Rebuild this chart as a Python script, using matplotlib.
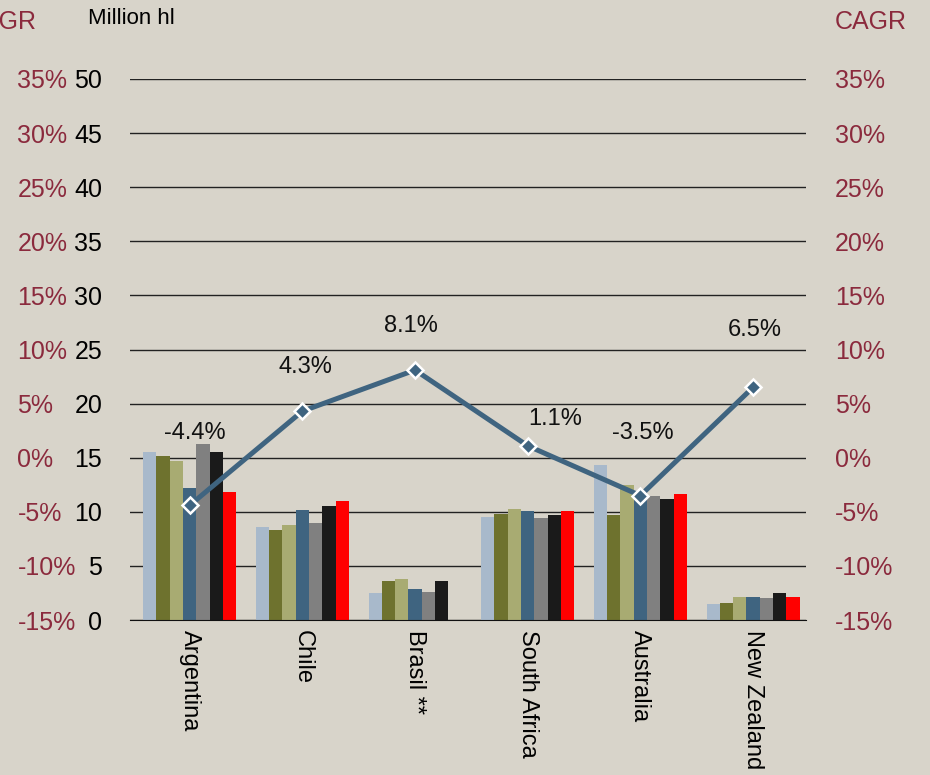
import matplotlib.pyplot as plt
import numpy as np

plt.rcParams['font.family'] = ['Liberation Sans', 'DejaVu Sans']

countries = ["Argentina", "Chile", "Brasil **", "South Africa", "Australia", "New Zealand"]

# production per year, million hl (NaN = no figure)
year1 = [15.5, 8.6, 2.5, 9.5, 14.3, 1.5]
year2 = [15.2, 8.35, 3.6, 9.8, 9.7, 1.6]
year3 = [14.7, 8.8, 3.8, 10.3, 12.5, 2.15]
year4 = [12.2, 10.2, 2.85, 10.1, 11.6, 2.15]
year5 = [16.3, 9.0, 2.6, 9.45, 11.45, 2.0]
year6 = [15.55, 10.55, 3.6, 9.75, 11.15, 2.45]
year7 = [11.85, 11.0, np.nan, 10.1, 11.6, 2.1]

cagr = [-4.4, 4.3, 8.1, 1.1, -3.5, 6.5]
cagr_labels = ["-4.4%", "4.3%", "8.1%", "1.1%", "-3.5%", "6.5%"]

hl_ticks = list(range(0, 55, 5))
cagr_ticks = list(range(-15, 40, 5))

bg = '#d8d4ca'
dark_red = '#8b2a3d'
line_col = '#3f6480'
bar_colors = ['#a8b9cb', '#6e722e', '#a8ab72', '#3f6480', '#808080', '#1a1a1a', '#ff0000']

fig = plt.figure(figsize=(9.3, 7.75), dpi=100, facecolor=bg)
ax = fig.add_axes([130 / 930, 1 - 620 / 775, 676 / 930, 541 / 775])
ax.set_facecolor(bg)

series = [year1, year2, year3, year4, year5, year6, year7]
x = np.arange(len(countries))
w = 0.118
for i, (vals, c) in enumerate(zip(series, bar_colors)):
    ax.bar(x + (i - 3) * w, vals, width=w, color=c, zorder=2)

ax.set_xlim(-0.53, len(countries) - 0.53)
ax.set_ylim(0, 50)
ax.set_yticks(hl_ticks)
ax.yaxis.grid(True, color='#222222', linewidth=1)
ax.set_axisbelow(True)
for s in ['top', 'right', 'left']:
    ax.spines[s].set_visible(False)
ax.spines['bottom'].set_color('#111111')
ax.tick_params(axis='y', length=0, labelsize=18, pad=20)
ax.set_xticks(x)
ax.set_xticklabels(countries, rotation=270, va='top', ha='center', fontsize=17)
ax.tick_params(axis='x', length=0, pad=7)

# CAGR on the right
ax2 = ax.twinx()
ax2.set_ylim(-15, 35)
ax2.set_yticks(cagr_ticks)
ax2.set_yticklabels([f"{t}%" for t in cagr_ticks])
ax2.tick_params(axis='y', length=0, labelsize=18, labelcolor=dark_red, pad=21)
for s in ax2.spines.values():
    s.set_visible(False)

ax2.plot(x, cagr, color=line_col, linewidth=3.6, zorder=5,
         marker='D', markersize=8.5, markerfacecolor=line_col,
         markeredgecolor='white', markeredgewidth=1.8)

offsets = [(4, 52), (2, 32), (-3, 32), (20, 19), (2, 45), (1, 41)]
for xi, v, lab, off in zip(x, cagr, cagr_labels, offsets):
    ax2.annotate(lab, (xi, v), xytext=off, textcoords='offset points',
                 ha='center', va='center', fontsize=17, color='#111111')

# same CAGR scale repeated at the far left
ax3 = ax.twinx()
ax3.set_ylim(-15, 35)
ax3.set_yticks(cagr_ticks)
ax3.set_yticklabels([f"{t}%" for t in cagr_ticks])
ax3.yaxis.set_ticks_position('left')
ax3.tick_params(axis='y', length=0, labelsize=18, labelcolor=dark_red, pad=81)
for lab in ax3.get_yticklabels():
    lab.set_horizontalalignment('left')
for s in ax3.spines.values():
    s.set_visible(False)

fig.text(88 / 930, 1 - 18 / 775, "Million hl", fontsize=16, va='center', ha='left')
fig.text(835 / 930, 1 - 22 / 775, "CAGR", fontsize=18, va='center', ha='left', color=dark_red)
fig.text(37 / 930, 1 - 22 / 775, "CAGR", fontsize=18, va='center', ha='right', color=dark_red)

fig.savefig("out.png", dpi=100, facecolor=bg)
